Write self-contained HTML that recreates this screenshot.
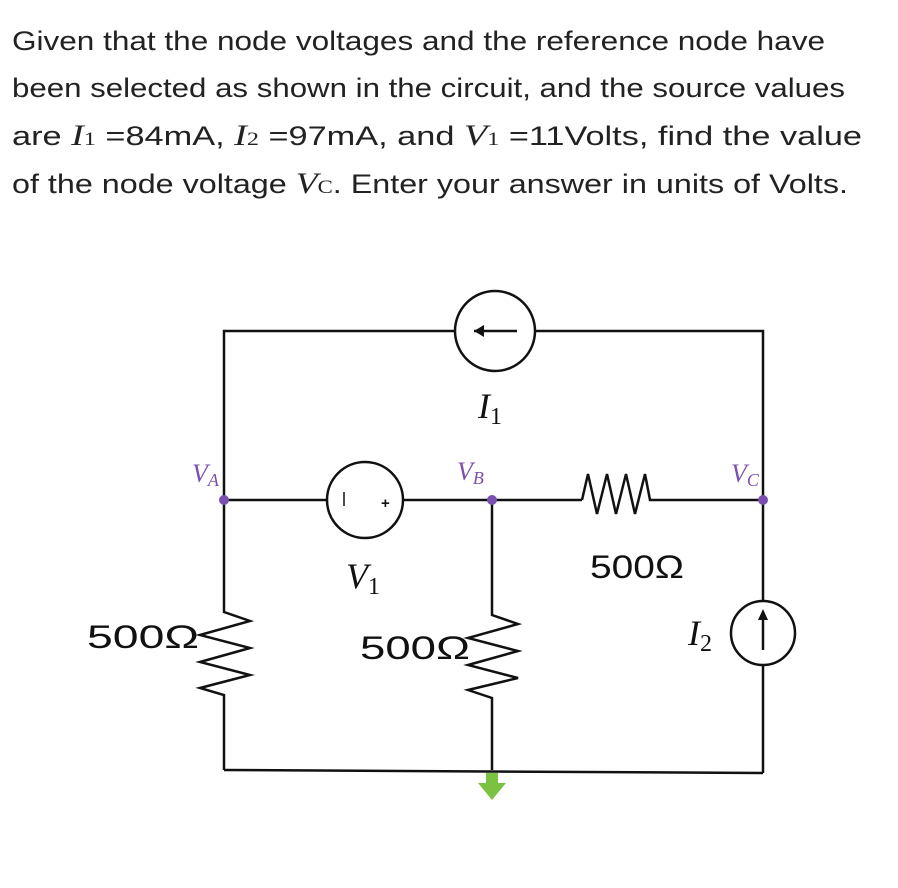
<!DOCTYPE html>
<html><head><meta charset="utf-8"><style>
html,body{margin:0;padding:0;background:#fff;}
svg{display:block}
.t{font-family:"Liberation Sans",sans-serif;font-size:27px;fill:#222}
.m{font-family:"Liberation Serif",serif;font-style:italic;font-size:30px}
.s{font-family:"Liberation Serif",serif;font-size:19px;font-style:normal}
.lb{font-family:"Liberation Sans",sans-serif;font-size:32px;fill:#111}
.li{font-family:"Liberation Serif",serif;font-size:36px;fill:#111;font-style:italic}
.nd{font-family:"Liberation Serif",serif;font-style:italic;font-size:26px;fill:#7a4fb0}
</style></head><body>
<svg width="898" height="888" viewBox="0 0 898 888" xmlns="http://www.w3.org/2000/svg">
<text class="t" x="12" y="50" textLength="813" lengthAdjust="spacingAndGlyphs">Given that the node voltages and the reference node have</text>
<text class="t" x="12" y="97" textLength="833" lengthAdjust="spacingAndGlyphs">been selected as shown in the circuit, and the source values</text>
<text class="t" x="12" y="145" textLength="850" lengthAdjust="spacingAndGlyphs">are <tspan class="m">I</tspan><tspan class="s">1</tspan> =84mA, <tspan class="m">I</tspan><tspan class="s">2</tspan> =97mA, and <tspan class="m">V</tspan><tspan class="s">1</tspan> =11Volts, find the value</text>
<text class="t" x="12" y="193" textLength="836" lengthAdjust="spacingAndGlyphs">of the node voltage <tspan class="m">V</tspan><tspan class="s" font-style="italic">C</tspan>.  Enter your answer in units of Volts.</text>

<g stroke="#111" stroke-width="2.5" fill="none">
<polyline points="224,500 224,331 455,331"/>
<polyline points="535,331 763,331 763,601"/>
<circle cx="495" cy="331" r="40" fill="#fff"/>
<line x1="517" y1="331" x2="474" y2="331"/>
<line x1="224" y1="500" x2="327" y2="500"/>
<circle cx="365" cy="500" r="38"/>
<line x1="403" y1="500" x2="582" y2="500"/>
<polyline points="582,500 588,474 597,514 607,474 616,514 626,474 635,514 645,474 650,500 676,500"/>
<line x1="676" y1="500" x2="763" y2="500"/>
<polyline points="224,500 224,612 250,621 200,635 250,648 200,662 250,675 200,688 224,695 224,770"/>
<polyline points="492,500 492,615 518,624 468,638 518,651 468,665 518,678 468,690 492,698 492,770"/>
<circle cx="763" cy="633" r="32"/>
<line x1="763" y1="665" x2="763" y2="773"/>
<line x1="763" y1="650" x2="763" y2="612"/>
<line x1="224" y1="770" x2="763" y2="773"/>
</g>
<polygon points="474,331 484,325 484,337" fill="#111"/>
<polygon points="763,609 758,620 768,620" fill="#111"/>
<line x1="344" y1="492" x2="344" y2="506" stroke="#111" stroke-width="1.5"/>
<text x="381" y="508" font-family="Liberation Sans,sans-serif" font-size="15" font-weight="bold" fill="#111">+</text>
<rect x="486" y="773" width="12" height="10" fill="#7cc242"/>
<polygon points="478,783 506,783 492,800" fill="#7cc242"/>
<circle cx="224" cy="500" r="5" fill="#7a4fb0"/>
<circle cx="492" cy="500" r="5" fill="#7a4fb0"/>
<circle cx="763" cy="500" r="5" fill="#7a4fb0"/>
<text class="nd" x="192" y="482">V<tspan font-size="18" dy="4">A</tspan></text>
<text class="nd" x="457" y="480">V<tspan font-size="18" dy="4">B</tspan></text>
<text class="nd" x="731" y="482">V<tspan font-size="18" dy="4">C</tspan></text>
<text class="li" x="478" y="418">I<tspan font-size="24" font-style="normal" dy="6">1</tspan></text>
<text class="li" x="346" y="588">V<tspan font-size="24" font-style="normal" dy="6">1</tspan></text>
<text class="lb" x="590" y="578" textLength="94" lengthAdjust="spacingAndGlyphs">500Ω</text>
<text class="lb" x="87" y="648" textLength="112" lengthAdjust="spacingAndGlyphs">500Ω</text>
<text class="lb" x="360" y="659" textLength="110" lengthAdjust="spacingAndGlyphs">500Ω</text>
<text class="li" x="688" y="645">I<tspan font-size="24" font-style="normal" dy="6">2</tspan></text>
</svg>
</body></html>
